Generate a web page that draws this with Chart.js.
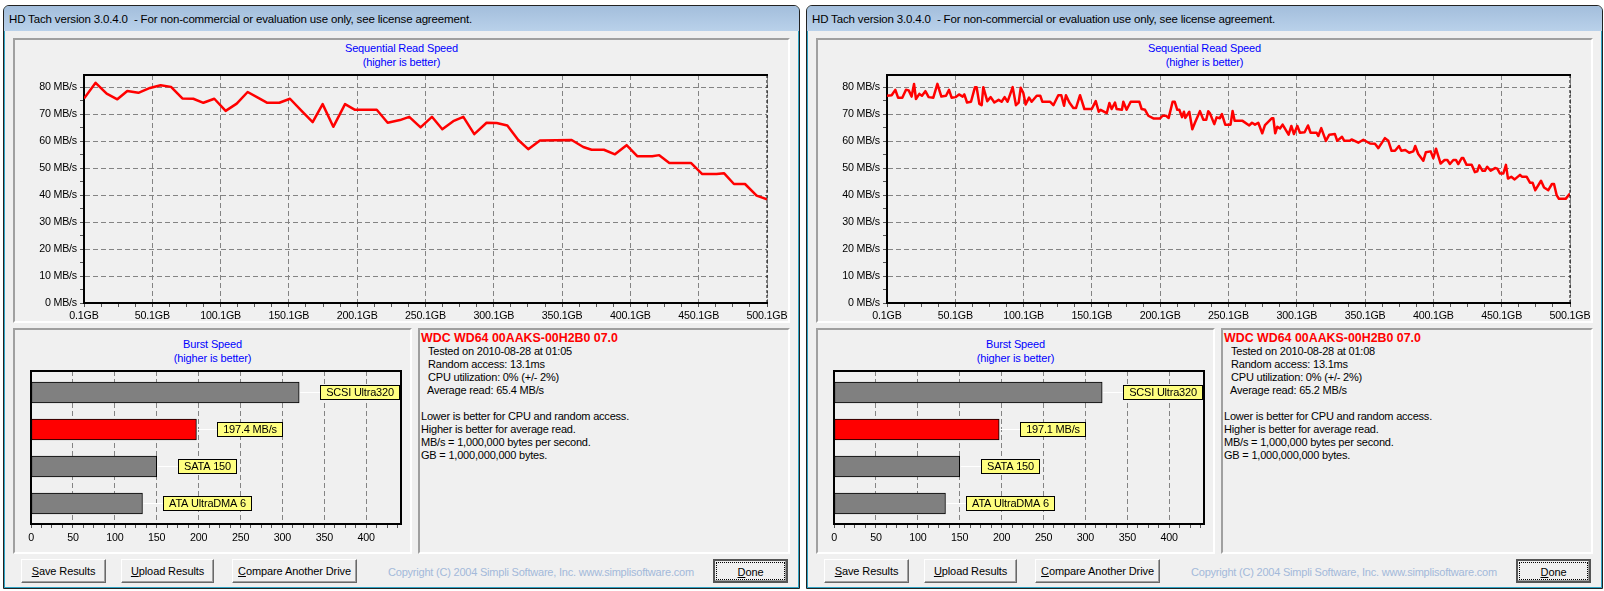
<!DOCTYPE html>
<html>
<head>
<meta charset="utf-8">
<title>HD Tach</title>
<script src="https://cdn.jsdelivr.net/npm/chart.js@4"></script>
<style>
html, body { margin: 0; padding: 0; background: #fff; width: 1604px; height: 591px; overflow: hidden; }
body, .win div { font-family: "Liberation Sans", Arial, sans-serif; font-size: 11px; letter-spacing: -0.2px; color: #000; }
.win { position: absolute; top: 0; left: 0; width: 803px; height: 591px; }
.frame { position: absolute; left: 3px; top: 5px; width: 795px; height: 582px; border: 1px solid #222; border-radius: 6px 6px 0 0;
  background: #f0f0f0; box-shadow: inset -1px -1px 0 #2fa3c4, inset 1px 0 0 #2fa3c4; }
.bar { position: absolute; left: 4px; top: 6px; width: 795px; height: 25px; border-radius: 5px 5px 0 0;
  background: linear-gradient(#a3bedc, #b9d1ea); }
.wintitle { position: absolute; left: 9px; top: 11px; line-height: 16px; white-space: pre; font-size: 11.5px !important; letter-spacing: -0.16px !important; color: #000; }
.panel { position: absolute; box-sizing: border-box; border: 2px solid; border-color: #a0a0a0 #fff #fff #a0a0a0; }
.blue { position: absolute; color: #0000ff !important; text-align: center; line-height: 14px; white-space: pre; letter-spacing: -0.15px !important; }
.t { position: absolute; white-space: pre; line-height: 13px; }
.drive { color: #ff0000 !important; font-weight: bold; font-size: 12.4px !important; letter-spacing: 0 !important; }
.btn { position: absolute; top: 559px; height: 24px; box-sizing: border-box; border: 1px solid; border-color: #fff #696969 #696969 #fff;
  box-shadow: inset -1px -1px 0 #a0a0a0; text-align: center; line-height: 22px; background: #f0f0f0; letter-spacing: -0.1px !important; }
.done { border: 2px solid; border-color: #555; line-height: 18px; }
.done span { display: block; margin: 1px; border: 1px dotted #000; height: 16px; }
.copy { position: absolute; top: 565px; left: 388px; color: #a3b9da !important; line-height: 14px; white-space: pre; letter-spacing: -0.21px !important; }
canvas { position: absolute; }
</style>
</head>
<body>
<script>
// sequential read curves
const leftGb = [0.1, 8.6, 16.7, 24.5, 31.8, 39.9, 48.4, 56.2, 63.8, 72.1, 80.1, 87.5, 95.5, 103.8, 111.9, 119.9, 127.7, 134.3, 143.1, 150.9,
  159.4, 167.5, 174.8, 182.6, 191.2, 198.5, 214.4, 222.4, 231.4, 238.2, 246.5, 254.8, 262.4, 270.4, 277.8, 285.8, 294.8, 302.2, 310,
  318, 325.3, 333.9, 357.1, 365.6, 371.7, 380.7, 388.8, 397.3, 405.1, 416.1, 421.2, 428.6, 444.4, 452.7, 463.2, 468.6, 475.9, 484, 492.5, 500.1];
const leftMb = [75.8, 81.6, 77.6, 75.5, 78.6, 77.9, 79.7, 80.7, 80.1, 75.8, 75.7, 74.2, 75.7, 71.2, 73.9, 78.2, 76.0, 74.2, 74.2, 75.7,
  71.2, 67.0, 73.7, 65.3, 73.7, 71.6, 71.6, 66.8, 67.8, 69.0, 65.1, 69.0, 64.4, 67.4, 69.0, 62.6, 66.8, 66.7, 65.8,
  60.4, 57.0, 60.2, 60.4, 57.8, 56.8, 56.8, 55.1, 58.5, 54.4, 54.4, 54.8, 51.9, 51.9, 47.8, 47.8, 48.1, 44.1, 44.1, 39.8, 38.4];

const rightGb = [0.1, 3.5, 6.2, 8.2, 11.3, 14.0, 16.0, 18.1, 19.9, 21.3, 23.8, 25.7, 28.2, 30.6, 34.0, 37.0, 39.9, 43.3, 45.5, 47.4,
  50.4, 52.8, 55.5, 56.7, 58.7, 61.6, 64.5, 65.7, 67.7, 69.4, 70.6, 73.5, 76.0, 78.7, 81.8, 84.0, 86.2, 88.4, 92.1, 94.5,
  96.5, 98.0, 99.9, 101.6, 104.1, 106.0, 109.7, 112.3, 113.8, 119.4, 121.9, 125.5, 127.7, 129.7, 131.1, 133.6, 136.5, 138.5, 141.4, 144.6,
  150.0, 152.9, 155.1, 156.5, 161.0, 162.9, 164.6, 167.0, 168.2, 172.1, 173.1, 175.5, 178.5, 184.8, 186.5, 189.0, 191.4, 195.1, 200.0, 201.9,
  204.3, 206.3, 209.2, 210.7, 212.6, 214.1, 216.1, 217.5, 218.5, 221.4, 223.6, 225.6, 229.2, 231.7, 233.8, 235.3, 236.5, 239.7, 241.4, 243.8,
  245.3, 247.7, 251.6, 253.1, 254.6, 260.4, 265.3, 267.3, 269.5, 271.9, 274.8, 276.8, 281.9, 282.9, 284.3, 285.8, 287.8, 289.7, 294.1, 296.1,
  298.0, 300.5, 302.4, 305.8, 308.3, 310.2, 314.6, 315.8, 318.0, 321.4, 323.9, 328.0, 329.7, 333.2, 334.9, 339.0, 340.2, 345.1, 348.8, 353.7,
  357.3, 359.8, 364.6, 367.1, 369.5, 372.0, 374.9, 376.6, 379.5, 382.4, 385.4, 386.8, 389.0, 392.7, 394.6, 398.1, 400.0, 402.0, 405.4, 408.3,
  410.3, 412.2, 414.7, 416.6, 418.3, 420.8, 422.0, 424.4, 428.1, 430.5, 432.2, 433.7, 436.1, 437.8, 439.5, 442.0, 445.2, 446.9, 448.8, 451.3,
  453.2, 454.7, 457.1, 459.6, 463.5, 464.9, 468.3, 470.8, 472.7, 474.7, 478.9, 481.1, 484.2, 486.9, 488.4, 490.3, 492, 496.9, 500.1];
const rightMb = [76.8, 77.0, 79.0, 76.1, 76.1, 79.0, 78.8, 76.5, 81.2, 75.6, 77.5, 76.8, 78.5, 76.3, 76.1, 81.2, 76.5, 76.8, 79.0, 76.1,
  76.3, 77.3, 76.5, 77.3, 74.3, 74.6, 80.0, 80.0, 73.8, 73.3, 80.0, 74.8, 76.3, 74.3, 75.3, 74.6, 76.3, 74.6, 80.0, 73.3,
  74.3, 79.8, 77.8, 73.6, 76.1, 74.6, 76.8, 76.8, 74.6, 74.6, 73.3, 77.0, 77.0, 73.1, 77.0, 74.3, 72.3, 72.3, 77.0, 71.9,
  71.9, 74.8, 70.9, 71.6, 70.4, 74.1, 71.9, 74.3, 71.9, 71.6, 74.6, 71.6, 74.6, 74.6, 71.9, 71.6, 69.4, 68.4, 68.4, 69.4,
  69.4, 68.6, 74.6, 74.6, 71.6, 71.6, 68.9, 70.9, 68.6, 70.9, 64.4, 66.9, 71.1, 67.9, 67.9, 71.1, 70.3, 66.3, 68.8, 68.5,
  70.0, 66.1, 66.1, 71.2, 67.5, 67.5, 65.8, 66.8, 66.1, 66.8, 62.9, 65.9, 68.5, 68.5, 62.9, 65.3, 64.7, 66.1, 62.4, 65.6,
  62.6, 65.6, 63.1, 63.3, 65.8, 63.1, 63.1, 61.9, 64.8, 60.1, 62.4, 62.6, 60.1, 61.6, 60.1, 60.1, 60.6, 59.4, 60.5, 59.1,
  59.0, 57.4, 61.1, 60.1, 56.4, 56.4, 58.2, 56.4, 56.7, 55.7, 56.2, 58.2, 55.2, 52.7, 55.9, 56.2, 53.7, 57.2, 51.7, 53.0,
  53.0, 51.5, 53.0, 53.0, 51.5, 53.7, 53.7, 51.2, 51.2, 48.5, 48.8, 51.0, 49.0, 49.0, 50.5, 49.0, 50.0, 49.8, 48.0, 48.0,
  51.2, 46.1, 46.8, 45.8, 47.5, 46.8, 46.8, 44.6, 44.6, 41.8, 45.3, 42.8, 41.8, 44.1, 44.1, 40.0, 38.6, 38.6, 40.6];

// axis ticks
const gbTicks = [0.1, 50.1, 100.1, 150.1, 200.1, 250.1, 300.1, 350.1, 400.1, 450.1, 500.1];
const mbTicks = [0, 10, 20, 30, 40, 50, 60, 70, 80];
const burstTicks = [0, 50, 100, 150, 200, 250, 300, 350, 400];

// burst bars, top to bottom
const burstNames = ['SCSI Ultra320', null, 'SATA 150', 'ATA UltraDMA 6'];
const burstLeft = [320, 197.4, 150, 133];
const burstRight = [320, 197.1, 150, 133];

const windows = [
  { offset: 0, gb: leftGb, mb: leftMb, burst: burstLeft, tested: '2010-08-28 at 01:05', avg: '65.4' },
  { offset: 803, gb: rightGb, mb: rightMb, burst: burstRight, tested: '2010-08-28 at 01:08', avg: '65.2' }
];

const FONT = '"Liberation Sans", Arial, sans-serif';
Chart.defaults.animation = false;
Chart.defaults.devicePixelRatio = 1;
Chart.defaults.font.family = FONT;
Chart.defaults.font.size = 10.7;
Chart.defaults.color = '#000';

// majors plus the small ticks between them
function allTicks(majors, minorStep, max) {
  const out = [];
  for (let v = majors[0]; v <= max + 0.001; v += minorStep) out.push({ value: v });
  return out;
}
function isMajor(majors, v) {
  return majors.some(m => Math.abs(m - v) < 0.01);
}

// top and right edge of the plot, the axes only give left and bottom
const frameEdges = {
  id: 'frameEdges',
  afterDraw(chart, args, opts) {
    const a = chart.chartArea, c = chart.ctx;
    c.save();
    c.strokeStyle = '#000';
    c.lineWidth = 2;
    c.beginPath();
    c.moveTo(a.left - 1, a.top);
    c.lineTo(a.right + 1, a.top);
    c.stroke();
    c.lineWidth = opts.dashedRight ? 1 : 2;
    if (opts.dashedRight) c.setLineDash([3, 2]);
    c.beginPath();
    c.moveTo(a.right, a.top);
    c.lineTo(a.right, a.bottom);
    c.stroke();
    c.restore();
  }
};

// yellow callouts next to the burst bars
const callouts = {
  id: 'callouts',
  afterDatasetsDraw(chart, args, opts) {
    const c = chart.ctx;
    const bars = chart.getDatasetMeta(0).data;
    c.save();
    c.font = '11px ' + FONT;
    c.textAlign = 'center';
    c.textBaseline = 'middle';
    bars.forEach((bar, i) => {
      const text = opts.names[i] || chart.data.datasets[0].data[i].x.toFixed(1) + ' MB/s';
      const w = Math.round(c.measureText(text).width) + 12;
      const x = Math.round(bar.x) + 21, y = Math.round(bar.y);
      c.strokeStyle = '#fff';
      c.lineWidth = 1;
      c.beginPath();
      c.moveTo(bar.x + 1, y + 0.5);
      c.lineTo(x, y + 0.5);
      c.stroke();
      c.fillStyle = '#ffff80';
      c.fillRect(x, y - 7, w, 15);
      c.strokeStyle = '#000';
      c.strokeRect(x + 0.5, y - 6.5, w - 1, 14);
      c.fillStyle = '#000';
      c.fillText(text, x + w / 2, y + 1);
    });
    c.restore();
  }
};

function addCanvas(parent, left, top, width, height) {
  const cv = document.createElement('canvas');
  cv.width = width;
  cv.height = height;
  cv.style.left = left + 'px';
  cv.style.top = top + 'px';
  cv.style.width = width + 'px';
  cv.style.height = height + 'px';
  parent.appendChild(cv);
  return cv;
}

function seqChart(parent, w) {
  const cv = addCanvas(parent, 15, 65, 785, 256);
  const points = w.gb.map((g, i) => ({ x: g, y: w.mb[i] }));
  new Chart(cv, {
    type: 'line',
    data: { datasets: [{ data: points, borderColor: '#ff0000', borderWidth: 2.5, borderJoinStyle: 'round', pointRadius: 0, tension: 0, fill: false }] },
    plugins: [frameEdges],
    options: {
      responsive: false,
      layout: { padding: { top: 10, right: 33 } },
      plugins: { legend: { display: false }, title: { display: false }, tooltip: { enabled: false }, frameEdges: { dashedRight: true } },
      scales: {
        x: {
          type: 'linear', min: 0.1, max: 500.1,
          afterBuildTicks: s => { s.ticks = allTicks(gbTicks, 12.5, 500.1); },
          afterFit: s => { s.height = 18; },
          ticks: { autoSkip: false, maxRotation: 0, padding: 3, callback: v => isMajor(gbTicks, v) ? v.toFixed(1) + 'GB' : '' },
          grid: { color: c => isMajor(gbTicks, c.tick.value) ? '#848484' : 'transparent', tickColor: '#555', tickLength: 4, lineWidth: 1 },
          border: { color: '#000', width: 2, dash: [5, 3] }
        },
        y: {
          type: 'linear', min: 0, max: 84.5,
          afterBuildTicks: s => { s.ticks = allTicks(mbTicks, 5, 80); },
          afterFit: s => { s.width = 69; },
          ticks: { autoSkip: false, padding: 3, callback: v => isMajor(mbTicks, v) ? v + ' MB/s' : '' },
          grid: { color: c => isMajor(mbTicks, c.tick.value) ? '#848484' : 'transparent', tickColor: '#555', tickLength: 4, lineWidth: 1 },
          border: { color: '#000', width: 2, dash: [5, 3] }
        }
      }
    }
  });
}

function burstChart(parent, w) {
  const cv = addCanvas(parent, 16, 360, 394, 185);
  const bars = w.burst.map((v, i) => ({ x: v, y: i }));
  new Chart(cv, {
    type: 'bar',
    data: { datasets: [{
      data: bars,
      backgroundColor: w.burst.map((v, i) => burstNames[i] ? '#808080' : '#ff0000'),
      borderColor: '#000', borderWidth: 1, borderSkipped: false, barThickness: 21
    }] },
    plugins: [frameEdges, callouts],
    options: {
      responsive: false,
      indexAxis: 'y',
      layout: { padding: { left: 15, top: 11, right: 9 } },
      plugins: { legend: { display: false }, title: { display: false }, tooltip: { enabled: false }, frameEdges: { dashedRight: false }, callouts: { names: burstNames } },
      scales: {
        x: {
          type: 'linear', min: 0, max: 441.5,
          afterBuildTicks: s => { s.ticks = allTicks(burstTicks, 12.5, 441.5); },
          afterFit: s => { s.height = 21; },
          ticks: { autoSkip: false, maxRotation: 0, padding: 4, callback: v => isMajor(burstTicks, v) ? String(v) : '' },
          grid: { color: c => isMajor(burstTicks, c.tick.value) ? '#848484' : 'transparent', tickColor: '#555', tickLength: 4, lineWidth: 1 },
          border: { color: '#000', width: 2, dash: [5, 3] }
        },
        y: {
          type: 'linear', reverse: true, offset: false, min: -0.58, max: 3.555,
          ticks: { display: false },
          afterFit: s => { s.width = 0; },
          grid: { display: false, drawTicks: false },
          border: { color: '#000', width: 2 }
        }
      }
    }
  });
}

function buildWindow(w) {
  const el = document.createElement('div');
  el.className = 'win';
  el.style.left = w.offset + 'px';
  el.innerHTML = `
    <div class="frame"></div>
    <div class="bar"></div>
    <div class="wintitle">HD Tach version 3.0.4.0  - For non-commercial or evaluation use only, see license agreement.</div>
    <div class="panel" style="left:13px;top:38px;width:777px;height:285px"></div>
    <div class="panel" style="left:13px;top:328px;width:399px;height:226px"></div>
    <div class="panel" style="left:418px;top:328px;width:372px;height:226px"></div>
    <div class="blue" style="left:13px;width:777px;top:41px">Sequential Read Speed</div>
    <div class="blue" style="left:13px;width:777px;top:55px">(higher is better)</div>
    <div class="blue" style="left:13px;width:399px;top:337px">Burst Speed</div>
    <div class="blue" style="left:13px;width:399px;top:351px">(higher is better)</div>
    <div class="t drive" style="left:421px;top:332px">WDC WD64 00AAKS-00H2B0 07.0</div>
    <div class="t" style="left:428px;top:345px">Tested on ${w.tested}</div>
    <div class="t" style="left:428px;top:358px">Random access: 13.1ms</div>
    <div class="t" style="left:428px;top:371px">CPU utilization: 0% (+/- 2%)</div>
    <div class="t" style="left:427px;top:384px">Average read: ${w.avg} MB/s</div>
    <div class="t" style="left:421px;top:410px">Lower is better for CPU and random access.</div>
    <div class="t" style="left:421px;top:423px">Higher is better for average read.</div>
    <div class="t" style="left:421px;top:436px">MB/s = 1,000,000 bytes per second.</div>
    <div class="t" style="left:421px;top:449px">GB = 1,000,000,000 bytes.</div>
    <div class="btn" style="left:21px;width:85px"><u>S</u>ave Results</div>
    <div class="btn" style="left:121px;width:93px"><u>U</u>pload Results</div>
    <div class="btn" style="left:232px;width:125px"><u>C</u>ompare Another Drive</div>
    <div class="copy">Copyright (C) 2004 Simpli Software, Inc. www.simplisoftware.com</div>
    <div class="btn done" style="left:713px;width:75px"><span><u>D</u>one</span></div>`;
  document.body.appendChild(el);
  seqChart(el, w);
  burstChart(el, w);
}

windows.forEach(buildWindow);
</script>
</body>
</html>
